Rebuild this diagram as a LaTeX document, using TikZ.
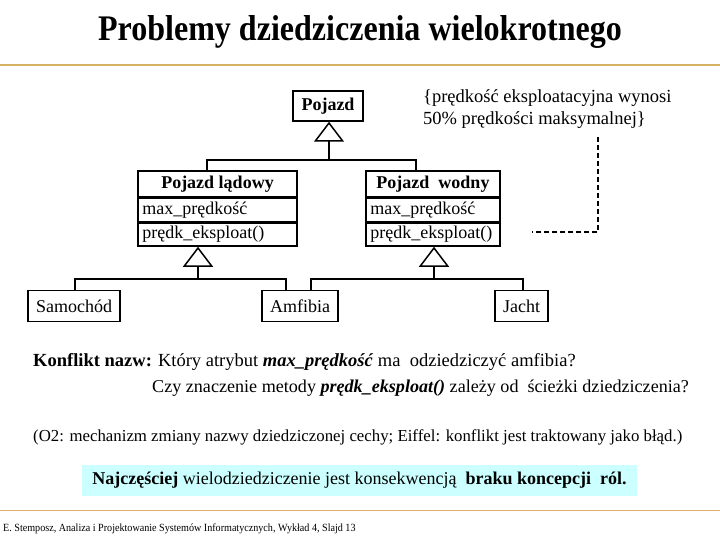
\documentclass[tikz,border=0pt]{standalone}
\usepackage{fontspec}
\setmainfont{Liberation Serif}
\usetikzlibrary{arrows.meta,positioning}
\definecolor{goldline}{RGB}{212,176,96}
\definecolor{footline}{RGB}{222,176,110}
\definecolor{cyanbg}{RGB}{204,255,255}
\tikzset{
  box/.style={draw, line width=1.5pt, inner sep=0pt, font=\fontsize{18}{20}\selectfont},
  rowtxt/.style={inner sep=0pt, anchor=west, font=\fontsize{18}{20}\selectfont},
  conn/.style={line width=1.5pt},
  gen/.style={line width=1.5pt, -{Triangle[open, length=20pt, width=30pt, line width=1.5pt, fill=white]}},
  txt/.style={inner sep=0pt, anchor=west, font=\fontsize{18.5}{20}\selectfont},
}
\begin{document}
\begin{tikzpicture}[x=1pt, y=-1pt]
\useasboundingbox (0,0) rectangle (720,540);
% title
\node[inner sep=0pt, font=\fontsize{36}{38}\selectfont\bfseries] (title) at (360,32) {\scalebox{0.89}[1]{Problemy dziedziczenia wielokrotnego}};
\draw[goldline, line width=2.5pt] (0,65) -- (720,65);
% Pojazd
\node[box, minimum width=70pt, minimum height=30pt, font=\fontsize{18}{20}\selectfont\bfseries] (poj) at (328,106) {Pojazd};
% Pojazd ladowy
\node[box, minimum width=159pt, minimum height=26pt, font=\fontsize{18}{20}\selectfont\bfseries] (ladN) at (217.5,184) {Pojazd lądowy};
\node[box, minimum width=159pt, minimum height=23pt, anchor=north] (ladA) at (ladN.south) {};
\node[rowtxt] (ladAt) at ([xshift=5pt]ladA.west) {max\_prędkość};
\node[box, minimum width=159pt, minimum height=23pt, anchor=north] (ladM) at (ladA.south) {};
\node[rowtxt] (ladMt) at ([xshift=5pt]ladM.west) {prędk\_eksploat()};
% Pojazd wodny
\node[box, minimum width=134pt, minimum height=26pt, font=\fontsize{18}{20}\selectfont\bfseries] (wodN) at (433,184) {Pojazd\ \ wodny};
\node[box, minimum width=134pt, minimum height=23pt, anchor=north] (wodA) at (wodN.south) {};
\node[rowtxt] (wodAt) at ([xshift=5pt]wodA.west) {max\_prędkość};
\node[box, minimum width=134pt, minimum height=23pt, anchor=north] (wodM) at (wodA.south) {};
\node[rowtxt] (wodMt) at ([xshift=5pt]wodM.west) {prędk\_eksploat()};
% leaves
\node[box, minimum width=92pt, minimum height=31pt] (sam) at (74,306) {Samochód};
\node[box, minimum width=76pt, minimum height=31pt] (amf) at (300,306) {Amfibia};
\node[box, minimum width=53pt, minimum height=31pt] (jac) at (521.5,306) {Jacht};
% generalizations top
\coordinate (j1) at (329,160);
\draw[gen] (j1) -- (poj.south -| j1);
\draw[conn] (ladN.north -| 207,0) |- (j1);
\draw[conn] (wodN.north -| 416,0) |- (j1);
% generalization lower left
\coordinate (j2) at (198,279);
\draw[gen] (j2) -- (ladM.south -| j2);
\draw[conn] (sam.north -| 75,0) |- (j2);
\draw[conn] (amf.north -| 286,0) |- (j2);
% generalization lower right
\coordinate (j3) at (434,279);
\draw[gen] (j3) -- (wodM.south -| j3);
\draw[conn] (amf.north -| 311,0) |- (j3);
\draw[conn] (jac.north -| 523,0) |- (j3);
% note
\node[inner sep=0pt, anchor=north west, align=left, font=\fontsize{18.5}{22}\selectfont] (note) at (423,89) {\{prędkość eksploatacyjna wynosi\\50\% prędkości maksymalnej\}};
\coordinate (nd) at (598,137);
\coordinate (nm) at (532,232);
\draw[line width=1.8pt, dash pattern=on 5pt off 3pt] (nd) |- (nm);
% text
\node[txt] (k1) at (33,362) {\textbf{Konflikt nazw:} Który atrybut \textbf{\textit{max\_prędkość}} ma\ \ odziedziczyć amfibia?};
\node[txt, font=\fontsize{18.1}{20}\selectfont] (k2) at (152,388) {Czy znaczenie metody \textbf{\textit{prędk\_eksploat()}} zależy od\ \ ścieżki dziedziczenia?};
\node[txt, font=\fontsize{16.8}{18}\selectfont] (o2) at (33,437) {(O2: mechanizm zmiany nazwy dziedziczonej cechy; Eiffel: konflikt jest traktowany jako błąd.)};
\node[fill=cyanbg, minimum width=555pt, minimum height=31pt, inner sep=0pt, font=\fontsize{18}{20}\selectfont] (naj) at (359.5,480) {\textbf{Najczęściej} wielodziedziczenie jest konsekwencją\ \ \textbf{braku koncepcji\ \ ról.}};
\draw[footline, line width=1pt] (0,510) -- (720,510);
\node[inner sep=0pt, anchor=west, font=\fontsize{11}{12}\selectfont] (foot) at (3,529) {\scalebox{0.92}[1]{E. Stemposz, Analiza i Projektowanie Systemów Informatycznych, Wykład 4, Slajd 13}};
\end{tikzpicture}
\end{document}
